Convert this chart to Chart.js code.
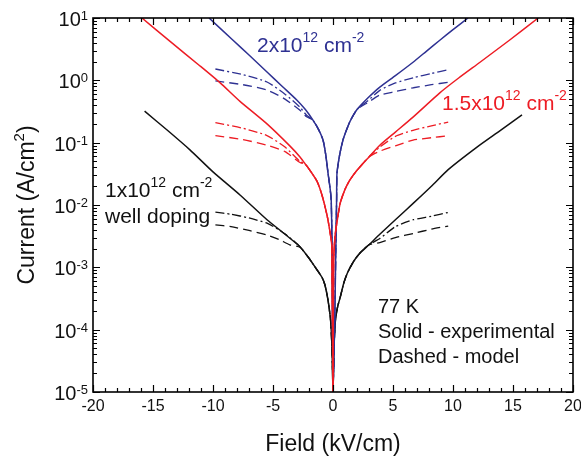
<!DOCTYPE html>
<html>
<head>
<meta charset="utf-8">
<script src="https://cdn.jsdelivr.net/npm/chart.js@4.4.0/dist/chart.umd.min.js"></script>
<style>
html, body { margin: 0; padding: 0; background: #fff; }
#wrap { width: 581px; height: 459px; }
</style>
</head>
<body>
<div id="wrap"><canvas id="ivChart" width="581" height="459"></canvas></div>
<script>
// 1x10^12 cm^-2 well doping (black)
const blackExpField    = [-15.7, -13.8, -11.9, -10, -7.75, -5.5, -4, -2.75, -2, -1.33, -0.9, -0.67, -0.42, -0.2, -0.08, 0, 0.08, 0.2, 0.4, 0.6, 0.9, 1.2, 1.7, 2.25, 3, 3.9, 5.2, 6.7, 8.2, 9.6, 12, 13.9, 15.75];
const blackExpCurrent  = [0.32, 0.158, 0.076, 0.034, 0.0145, 0.0058, 0.0034, 0.00214, 0.0014, 0.00091, 0.00068, 0.00052, 0.0003, 0.00014, 0.000047, 0.00001, 0.00005, 0.00014, 0.00024, 0.00033, 0.00056, 0.00081, 0.00123, 0.0017, 0.0023, 0.0034, 0.0058, 0.0107, 0.020, 0.037, 0.085, 0.155, 0.28];
const blackModelField  = [-9.8, -8.5, -7, -5.5, -4.5, -3.6, -2.75, -2, -1.33, -0.9, -0.67, -0.42, -0.2, -0.08, 0, 0.08, 0.2, 0.4, 0.6, 0.9, 1.2, 1.7, 2.25, 3, 3.9, 5.2, 6.7, 8.2, 9.6];
const blackDotCurrent  = [0.0077, 0.0071, 0.0062, 0.0051, 0.004, 0.003, 0.00214, 0.0014, 0.00091, 0.00068, 0.00052, 0.0003, 0.00014, 0.000047, 0.00001, 0.00005, 0.00014, 0.00024, 0.00033, 0.00056, 0.00081, 0.00123, 0.0017, 0.0023, 0.0029, 0.0045, 0.0058, 0.0066, 0.0076];
const blackDashCurrent = [0.0048, 0.0045, 0.0039, 0.0033, 0.0028, 0.0023, 0.0021, 0.0014, 0.00091, 0.00068, 0.00052, 0.0003, 0.00014, 0.000047, 0.00001, 0.00005, 0.00014, 0.00024, 0.00033, 0.00056, 0.00081, 0.00123, 0.0017, 0.0023, 0.0025, 0.003, 0.0035, 0.0041, 0.0046];

// 1.5x10^12 cm^-2 (red)
const redExpField    = [-15.92, -13.5, -11.08, -9.4, -7.75, -5.5, -3.58, -2.75, -2.3, -1.92, -1.33, -0.92, -0.5, -0.25, -0.1, 0, 0.05, 0.17, 0.35, 0.6, 1, 1.4, 2, 3, 3.9, 5.2, 6.67, 8.9, 10.5, 12.25, 14.7, 17.1];
const redExpCurrent  = [10, 4.1, 1.70, 0.91, 0.46, 0.2, 0.088, 0.059, 0.045, 0.036, 0.024, 0.0145, 0.0069, 0.0037, 0.0022, 0.00001, 0.0012, 0.0032, 0.0056, 0.0107, 0.0178, 0.025, 0.036, 0.059, 0.091, 0.148, 0.257, 0.63, 1.1, 1.95, 4.4, 10];
const redModelField  = [-9.8, -7.5, -5.5, -4, -2.75, -2.3, -1.92, -1.33, -0.92, -0.5, -0.25, -0.1, 0, 0.05, 0.17, 0.35, 0.6, 1, 1.4, 2, 3, 3.9, 5.2, 6.67, 8.2, 9.6];
const redDotCurrent  = [0.21, 0.17, 0.13, 0.085, 0.05, 0.045, 0.036, 0.024, 0.0145, 0.0069, 0.0037, 0.0022, 0.00001, 0.0012, 0.0032, 0.0056, 0.0107, 0.0178, 0.025, 0.036, 0.059, 0.085, 0.126, 0.158, 0.186, 0.214];
const redDashCurrent = [0.13, 0.112, 0.091, 0.072, 0.048, 0.045, 0.036, 0.024, 0.0145, 0.0069, 0.0037, 0.0022, 0.00001, 0.0012, 0.0032, 0.0056, 0.0107, 0.0178, 0.025, 0.036, 0.059, 0.073, 0.089, 0.11, 0.12, 0.129];

// 2x10^12 cm^-2 (blue)
const blueExpField    = [-10.33, -8.33, -7, -5.5, -4.2, -3, -2.3, -1.67, -1.2, -0.83, -0.6, -0.42, -0.25, -0.15, -0.1, -0.07, -0.04, 0, 0.15, 0.22, 0.27, 0.3, 0.33, 0.55, 0.83, 1.1, 1.42, 2, 2.9, 3.9, 5.2, 6.67, 7.8, 8.9, 10, 11.25];
const blueExpCurrent  = [10, 4.4, 2.55, 1.36, 0.79, 0.48, 0.34, 0.23, 0.162, 0.11, 0.063, 0.033, 0.019, 0.012, 0.004, 0.0013, 0.00016, 0.00001, 0.00016, 0.0013, 0.005, 0.012, 0.032, 0.063, 0.11, 0.155, 0.22, 0.34, 0.52, 0.78, 1.19, 1.95, 2.95, 4.4, 6.5, 10];
const blueModelField  = [-9.8, -7.5, -5.5, -4, -2.75, -2.2, -1.67, -1.2, -0.83, -0.6, -0.42, -0.25, -0.15, -0.1, -0.07, -0.04, 0, 0.15, 0.22, 0.27, 0.3, 0.33, 0.55, 0.83, 1.1, 1.42, 2, 2.9, 3.9, 5.2, 6.7, 8.2, 9.6];
const blueDotCurrent  = [1.52, 1.23, 0.94, 0.6, 0.37, 0.275, 0.23, 0.162, 0.11, 0.063, 0.033, 0.019, 0.012, 0.004, 0.0013, 0.00016, 0.00001, 0.00016, 0.0013, 0.005, 0.012, 0.032, 0.063, 0.11, 0.155, 0.22, 0.34, 0.47, 0.69, 0.91, 1.1, 1.29, 1.48];
const blueDashCurrent = [0.98, 0.85, 0.70, 0.5, 0.33, 0.26, 0.23, 0.162, 0.11, 0.063, 0.033, 0.019, 0.012, 0.004, 0.0013, 0.00016, 0.00001, 0.00016, 0.0013, 0.005, 0.012, 0.032, 0.063, 0.11, 0.155, 0.22, 0.34, 0.44, 0.58, 0.66, 0.76, 0.85, 0.93];

const xTicks = [-20, -15, -10, -5, 0, 5, 10, 15, 20];
const yDecades = [-5, -4, -3, -2, -1, 0, 1];

const FONT = '"Liberation Sans", Arial, sans-serif';
const BLUE = '#2e3192';
const RED = '#ed1c24';
const BLACK = '#111111';
const DASH = [9, 5];
const DASHDOT = [9, 3, 2, 3];

function pts(xs, ys) {
    return xs.map((x, i) => ({ x: x, y: ys[i] }));
}

function line(data, color, dash, order) {
    return {
        data: data,
        borderColor: color,
        borderWidth: dash ? 1.3 : 1.5,
        borderDash: dash || [],
        borderJoinStyle: 'round',
        pointRadius: 0,
        tension: 0.2,
        fill: false,
        order: order
    };
}

// text with superscript pieces, y = baseline
function richText(ctx, parts, x, y, size, color, align, raise) {
    const supSize = Math.round(size * 0.66);
    ctx.save();
    ctx.fillStyle = color;
    ctx.textBaseline = 'alphabetic';
    ctx.textAlign = 'left';
    const widths = parts.map(p => {
        ctx.font = (p[1] ? supSize : size) + 'px ' + FONT;
        return ctx.measureText(p[0]).width;
    });
    const total = widths.reduce((a, b) => a + b, 0);
    let cx = x;
    if (align === 'right') cx = x - total;
    if (align === 'center') cx = x - total / 2;
    parts.forEach((p, i) => {
        ctx.font = (p[1] ? supSize : size) + 'px ' + FONT;
        ctx.fillText(p[0], cx, p[1] ? y - size * raise : y);
        cx += widths[i];
    });
    ctx.restore();
}

const framePlugin = {
    id: 'frame',
    afterDatasetsDraw(chart) {
        const ctx = chart.ctx;
        const xs = chart.scales.x, ys = chart.scales.y;
        const a = chart.chartArea;
        ctx.save();
        ctx.strokeStyle = '#000';
        ctx.lineWidth = 1.6;
        ctx.strokeRect(a.left, a.top, a.right - a.left, a.bottom - a.top);
        ctx.lineWidth = 1.2;
        ctx.beginPath();
        // x ticks, every 1, major every 5
        for (let v = -20; v <= 20; v++) {
            const px = Math.round(xs.getPixelForValue(v)) + 0.5;
            const len = v % 5 === 0 ? 7 : 4;
            ctx.moveTo(px, a.bottom); ctx.lineTo(px, a.bottom - len);
            ctx.moveTo(px, a.top); ctx.lineTo(px, a.top + len);
        }
        // y ticks, log minor
        yDecades.forEach(e => {
            for (let m = 1; m <= 9; m++) {
                if (e === 1 && m > 1) break;
                const py = Math.round(ys.getPixelForValue(m * Math.pow(10, e))) + 0.5;
                const len = m === 1 ? 7 : 4;
                ctx.moveTo(a.left, py); ctx.lineTo(a.left + len, py);
                ctx.moveTo(a.right, py); ctx.lineTo(a.right - len, py);
            }
        });
        ctx.stroke();
        ctx.restore();

        // y tick labels 10^n
        yDecades.forEach(e => {
            const py = ys.getPixelForValue(Math.pow(10, e));
            richText(ctx, [['10', false], [String(e), true]], 88, py + 8, 20, '#111', 'right', 0.3);
        });

        // axis titles
        richText(ctx, [['Field (kV/cm)', false]], 333, 451, 23, '#111', 'center', 0);
        ctx.save();
        ctx.translate(34, 205);
        ctx.rotate(-Math.PI / 2);
        richText(ctx, [['Current (A/cm', false], ['2', true], [')', false]], 0, 0, 23, '#111', 'center', 0.42);
        ctx.restore();

        // annotations
        richText(ctx, [['2x10', false], ['12', true], [' cm', false], ['-2', true]], 257, 52, 21, BLUE, 'left', 0.48);
        richText(ctx, [['1.5x10', false], ['12', true], [' cm', false], ['-2', true]], 442, 110, 21, RED, 'left', 0.48);
        richText(ctx, [['1x10', false], ['12', true], [' cm', false], ['-2', true]], 105, 197, 21, BLACK, 'left', 0.48);
        richText(ctx, [['well doping', false]], 105, 223, 21, BLACK, 'left', 0);
        richText(ctx, [['77 K', false]], 378, 313, 20, BLACK, 'left', 0);
        richText(ctx, [['Solid - experimental', false]], 378, 338, 20, BLACK, 'left', 0);
        richText(ctx, [['Dashed - model', false]], 378, 363, 20, BLACK, 'left', 0);
    }
};

const ctx = document.getElementById('ivChart').getContext('2d');
new Chart(ctx, {
    type: 'line',
    data: {
        datasets: [
            line(pts(redExpField, redExpCurrent), RED, null, 0),
            line(pts(redModelField, redDotCurrent), RED, DASHDOT, 1),
            line(pts(redModelField, redDashCurrent), RED, DASH, 1),
            line(pts(blueExpField, blueExpCurrent), BLUE, null, 2),
            line(pts(blueModelField, blueDotCurrent), BLUE, DASHDOT, 3),
            line(pts(blueModelField, blueDashCurrent), BLUE, DASH, 3),
            line(pts(blackExpField, blackExpCurrent), BLACK, null, 4),
            line(pts(blackModelField, blackDotCurrent), BLACK, DASHDOT, 5),
            line(pts(blackModelField, blackDashCurrent), BLACK, DASH, 5)
        ]
    },
    options: {
        responsive: false,
        devicePixelRatio: 1,
        animation: false,
        layout: { padding: { top: 18, right: 8, bottom: 0, left: 0 } },
        plugins: { legend: { display: false }, tooltip: { enabled: false } },
        scales: {
            x: {
                type: 'linear',
                min: -20,
                max: 20,
                afterBuildTicks: s => { s.ticks = xTicks.map(v => ({ value: v })); },
                afterFit: s => { s.height = 67; s.paddingLeft = 0; s.paddingRight = 0; },
                grid: { display: false, drawTicks: false },
                border: { display: false },
                ticks: { color: '#111', padding: 5, maxRotation: 0, font: { family: FONT, size: 16 } }
            },
            y: {
                type: 'logarithmic',
                min: 1e-5,
                max: 10,
                afterFit: s => { s.width = 93; },
                grid: { display: false, drawTicks: false },
                border: { display: false },
                ticks: { display: false }
            }
        }
    },
    plugins: [framePlugin]
});
</script>
</body>
</html>
